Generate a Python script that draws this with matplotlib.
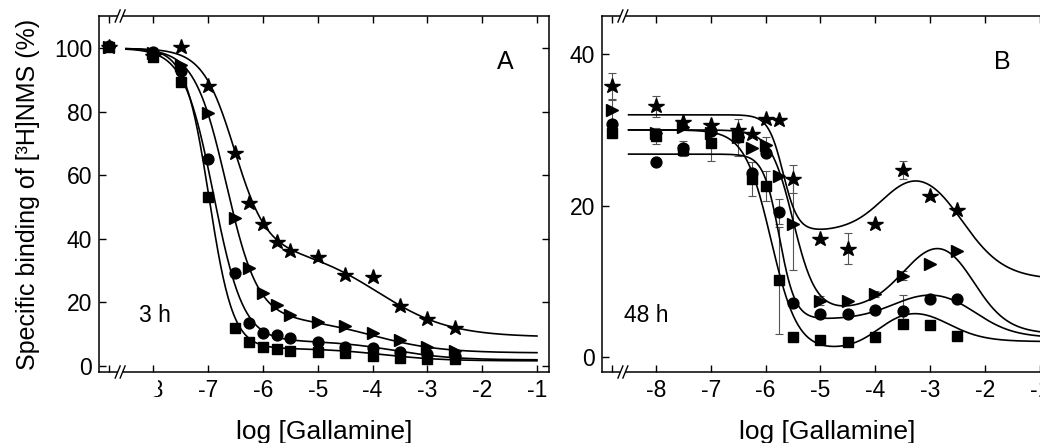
import numpy as np
import matplotlib.pyplot as plt
from matplotlib.patches import Rectangle

plt.rcParams['font.family'] = ['Liberation Sans', 'DejaVu Sans']

# log [gallamine]; -8.8 is the control without gallamine, left of the axis break
log_conc = [-8.8, -8, -7.5, -7, -6.5, -6.25, -6, -5.75, -5.5, -5, -4.5, -4, -3.5, -3, -2.5]

# 3 h incubation, % of control binding
star_3h = [100.5, 97.6, 100.5, 88.1, 67.1, 51.4, 44.6, 39.1, 36.2, 34.1, 28.5, 27.8, 18.8, 14.6, 11.8]
tri_3h = [100.5, 98.4, 94.6, 79.5, 46.4, 30.7, 22.8, 19.1, 16.0, 13.9, 12.5, 10.4, 8.1, 6.0, 4.7]
circ_3h = [100.8, 98.9, 93.0, 65.0, 29.1, 13.4, 10.2, 9.7, 8.6, 7.3, 6.0, 5.5, 4.4, 3.7, 3.1]
sq_3h = [100.5, 97.4, 89.5, 53.2, 11.8, 7.6, 5.8, 5.4, 4.7, 4.4, 4.1, 3.1, 2.4, 2.1, 2.1]

# 48 h incubation
star_48h = [35.8, 33.1, 31.0, 30.6, 30.0, 29.5, 31.5, 31.3, 23.5, 15.6, 14.3, 17.5, 24.7, 21.3, 19.4]
tri_48h = [32.6, 29.6, 30.4, 29.6, 29.1, 27.6, 28.0, 23.9, 17.5, 7.4, 7.4, 8.3, 10.7, 12.3, 14.0]
circ_48h = [30.8, 25.7, 27.6, 29.9, 29.0, 24.3, 26.9, 19.2, 7.1, 5.6, 5.6, 6.2, 6.1, 7.6, 7.6]
sq_48h = [29.6, 29.2, 27.3, 28.3, 29.1, 23.5, 22.6, 10.1, 2.6, 2.2, 2.0, 2.6, 4.3, 4.2, 2.7]

star_48h_err = [1.7, 1.4, 0, 0, 0, 0, 0, 0, 1.8, 0, 2.1, 0, 1.2, 0, 0]
tri_48h_err = [1.3, 0, 0, 0, 0, 0, 1.0, 0, 6.0, 0.6, 0, 0.4, 0.6, 0, 0]
circ_48h_err = [0, 0, 1.0, 0, 2.4, 0, 0, 1.7, 0, 0, 0, 0, 2.1, 0, 0]
sq_48h_err = [0, 1.0, 0, 2.4, 0, 2.2, 2.0, 7.1, 0, 0, 0, 0, 0, 0, 0]

# fitted two-site inhibition curves (3 h): top, bottom, fraction high, logIC50 1, slope 1, logIC50 2, slope 2
fit_3h = {
    'star': [100, 9.0, 0.69, -6.52, 1.5, -3.9, 0.66],
    'tri': [100, 4.0, 0.885, -6.67, 1.5, -4.0, 0.7],
    'circ': [100, 1.8, 0.939, -6.9, 1.6, -3.6, 0.8],
    'sq': [100, 1.5, 0.96, -6.98, 2.0, -3.8, 0.8],
}
# fitted bell-shaped curves (48 h): top, x1, n1, base, plateau offset, bump height, x rise, n rise, x fall, n fall
fit_48h = {
    'star': [32.0, -5.68, 3.2, 10.2, 6.3, 10.1, -3.8, 1.3, -2.45, 1.1],
    'tri': [30.0, -5.5, 2.1, 3.0, 3.0, 12.25, -3.4, 1.2, -2.25, 1.35],
    'circ': [26.8, -5.75, 3.0, 2.5, 2.4, 4.6, -3.6, 1.2, -2.2, 1.2],
    'sq': [30.0, -5.9, 1.8, 2.0, -1.2, 6.2, -3.9, 1.5, -2.7, 1.3],
}

xticks = [-8.8, -8, -7, -6, -5, -4, -3, -2, -1]
xticklabels = ['', '-8', '-7', '-6', '-5', '-4', '-3', '-2', '-1']


def two_site(x, top, bottom, frac, x1, n1, x2, n2):
    s1 = 1 / (1 + 10 ** (n1 * (x - x1)))
    s2 = 1 / (1 + 10 ** (n2 * (x - x2)))
    return bottom + (top - bottom) * (frac * s1 + (1 - frac) * s2)


def bell(x, top, x1, n1, base, c, a, xr, nr, xd, nd):
    d1 = 1 / (1 + 10 ** (n1 * (x - x1)))
    r = 1 / (1 + 10 ** (nr * (xr - x)))
    d2 = 1 / (1 + 10 ** (nd * (x - xd)))
    return top * d1 + (1 - d1) * (base + d2 * (c + a * r))


def axis_break(ax, xf=0.047):
    w, h, gap = 0.011, 0.034, 0.011
    for y0 in (0, 1):
        ax.add_patch(Rectangle((xf - gap / 2, y0 - 0.005), gap, 0.01, transform=ax.transAxes,
                               facecolor='white', edgecolor='none', clip_on=False, zorder=5))
        for dx in (-gap / 2, gap / 2):
            ax.plot([xf + dx - w / 2, xf + dx + w / 2], [y0 - h / 2, y0 + h / 2],
                    transform=ax.transAxes, color='black', lw=1, clip_on=False, zorder=6)


def style_axes(ax, yticks, ylim):
    ax.set_xlim(-8.99, -0.78)
    ax.set_ylim(*ylim)
    ax.set_xticks(xticks)
    ax.set_xticklabels(xticklabels)
    ax.set_yticks(yticks)
    ax.tick_params(direction='in', length=5, width=1, top=True, right=True,
                   labelsize=16.5, pad=5)
    for sp in ax.spines.values():
        sp.set_linewidth(1.1)
    ax.set_xlabel('log [Gallamine]', fontsize=19, labelpad=13)
    axis_break(ax)


markers = {'star': ('*', 11.5), 'tri': ('>', 8.5), 'circ': ('o', 7.8), 'sq': ('s', 6.8)}
xs = np.linspace(-8.5, -1, 500)

fig = plt.figure(figsize=(10.4, 4.43), dpi=100)
axA = fig.add_axes([0.0952, 0.1603, 0.4327, 0.8036])
axB = fig.add_axes([0.5786, 0.1603, 0.4327, 0.8036])

# panel A, 3 h
data_3h = {'star': star_3h, 'tri': tri_3h, 'circ': circ_3h, 'sq': sq_3h}
for key, vals in data_3h.items():
    axA.plot(xs, two_site(xs, *fit_3h[key]), color='black', lw=1.2, zorder=2)
    m, s = markers[key]
    axA.plot(log_conc, vals, ls='none', marker=m, ms=s, color='black', zorder=3)
style_axes(axA, [0, 20, 40, 60, 80, 100], (-2, 110.2))
axA.set_ylabel('Specific binding of [³H]NMS (%)', fontsize=18, labelpad=10)
axA.text(0.902, 0.871, 'A', transform=axA.transAxes, fontsize=18, ha='center', va='center')
axA.text(0.124, 0.160, '3 h', transform=axA.transAxes, fontsize=16.5, ha='center', va='center')

# panel B, 48 h
data_48h = {'star': (star_48h, star_48h_err), 'tri': (tri_48h, tri_48h_err),
            'circ': (circ_48h, circ_48h_err), 'sq': (sq_48h, sq_48h_err)}
for key, (vals, err) in data_48h.items():
    axB.plot(xs, bell(xs, *fit_48h[key]), color='black', lw=1.2, zorder=2)
    idx = [i for i, e in enumerate(err) if e > 0]
    axB.errorbar([log_conc[i] for i in idx], [vals[i] for i in idx], yerr=[err[i] for i in idx],
                 fmt='none', ecolor='#555555', elinewidth=0.8, capsize=3, capthick=0.8, zorder=1)
    m, s = markers[key]
    axB.plot(log_conc, vals, ls='none', marker=m, ms=s, color='black', zorder=3)
style_axes(axB, [0, 20, 40], (-2.02, 45.07))
axB.text(0.891, 0.871, 'B', transform=axB.transAxes, fontsize=18, ha='center', va='center')
axB.text(0.098, 0.160, '48 h', transform=axB.transAxes, fontsize=16.5, ha='center', va='center')

# the -8 label of panel A sits under the break and is mostly hidden
fig.add_artist(Rectangle((136 / 1040, 0.105), 22 / 1040, 0.052, transform=fig.transFigure,
                         facecolor='white', edgecolor='none', zorder=10))

fig.savefig('out.png', dpi=100)
